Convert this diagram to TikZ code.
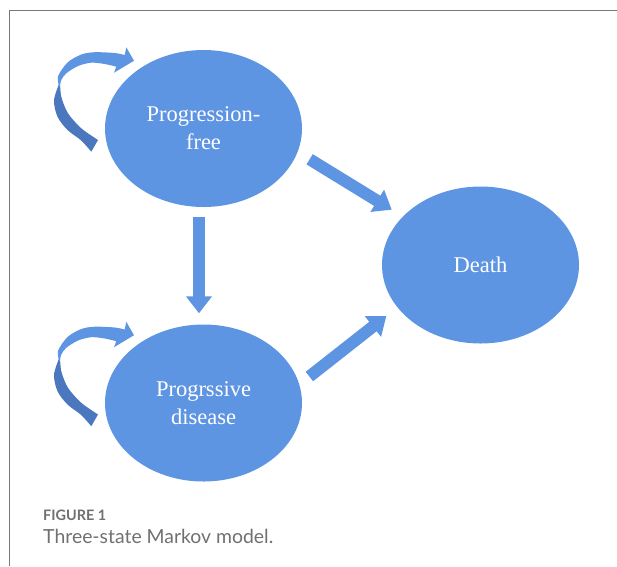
\documentclass[tikz,border=0pt]{standalone}
\usepackage{fontspec}
\setmainfont{Liberation Serif}
\newfontfamily\capfont{Lato}
\usetikzlibrary{arrows.meta,shapes.geometric}
\definecolor{statefill}{RGB}{94,149,226}
\definecolor{loopdark}{RGB}{74,119,190}
\definecolor{framegray}{RGB}{120,120,120}
\definecolor{capgray}{RGB}{112,112,112}
\tikzset{
  state/.style={ellipse, fill=statefill, text=white, minimum width=197pt,
    minimum height=157pt, inner sep=0pt, align=center,
    font=\fontsize{22.5}{28}\selectfont},
  flow/.style={draw=statefill, line width=12pt,
    -{Triangle[width=25pt,length=17pt]}},
  caption/.style={anchor=base west, text=capgray, inner sep=0pt},
}
\begin{document}
\begin{tikzpicture}[x=1pt,y=-1pt]
\useasboundingbox (0,0) rectangle (617,566);
% frame
\draw[framegray, line width=1pt] (617,10) -- (9.5,10) -- (9.5,566);

% states
\node[state] (pf) at (203.5,128.5) {Progression-\\free};
\node[state] (pd) at (203.5,403) {Progrssive\\disease};
\node[state] (death) at (480.5,265) {Death};

% self loops
\foreach \s in {pf,pd}{
  \begin{scope}[shift={(\s.center)}]
    \fill[loopdark] plot[smooth] coordinates {(-143.5,-47) (-149.5,-28.5)
        (-146,-11.8) (-136,1.5) (-122.5,11.8) (-112.2,23.2)}
      -- (-105.5,11.5)
      -- plot[smooth] coordinates {(-105.5,11.5) (-122.2,-0.2) (-135.5,-15.2)
        (-142.2,-31.8) (-143.5,-47)} -- cycle;
    \fill[statefill] plot[smooth] coordinates {(-144,-41) (-145.5,-52)
        (-136,-66) (-122.2,-74) (-108.8,-76.3) (-88.8,-75.5) (-78.8,-73.5)}
      -- (-77.2,-81.2) -- (-69.5,-67.8) -- (-89.5,-55.8)
      -- plot[smooth] coordinates {(-87.2,-61.8) (-98.8,-64.5) (-112.2,-65.8)
        (-125.5,-62.5) (-137.2,-55.2) (-142.2,-48.5) (-144,-41)} -- cycle;
  \end{scope}
}

% transitions
\draw[flow, shorten <=10pt, shorten >=11pt] ([xshift=-4.5pt]pf.south) -- ([xshift=-4.5pt]pd.north);
\draw[flow, shorten <=14pt, shorten >=13pt] (pf.-14) -- (death.148);
\draw[flow, shorten <=12.7pt, shorten >=14pt] (pd.11) -- (death.-153);

% caption
\node[caption, font=\capfont\bfseries\fontsize{14.4}{16}\selectfont] (fig) at (43,520) {FIGURE 1};
\node[caption, font=\capfont\fontsize{19.4}{22}\selectfont] (cap) at (43,543) {Three-state Markov model.};
\end{tikzpicture}
\end{document}
